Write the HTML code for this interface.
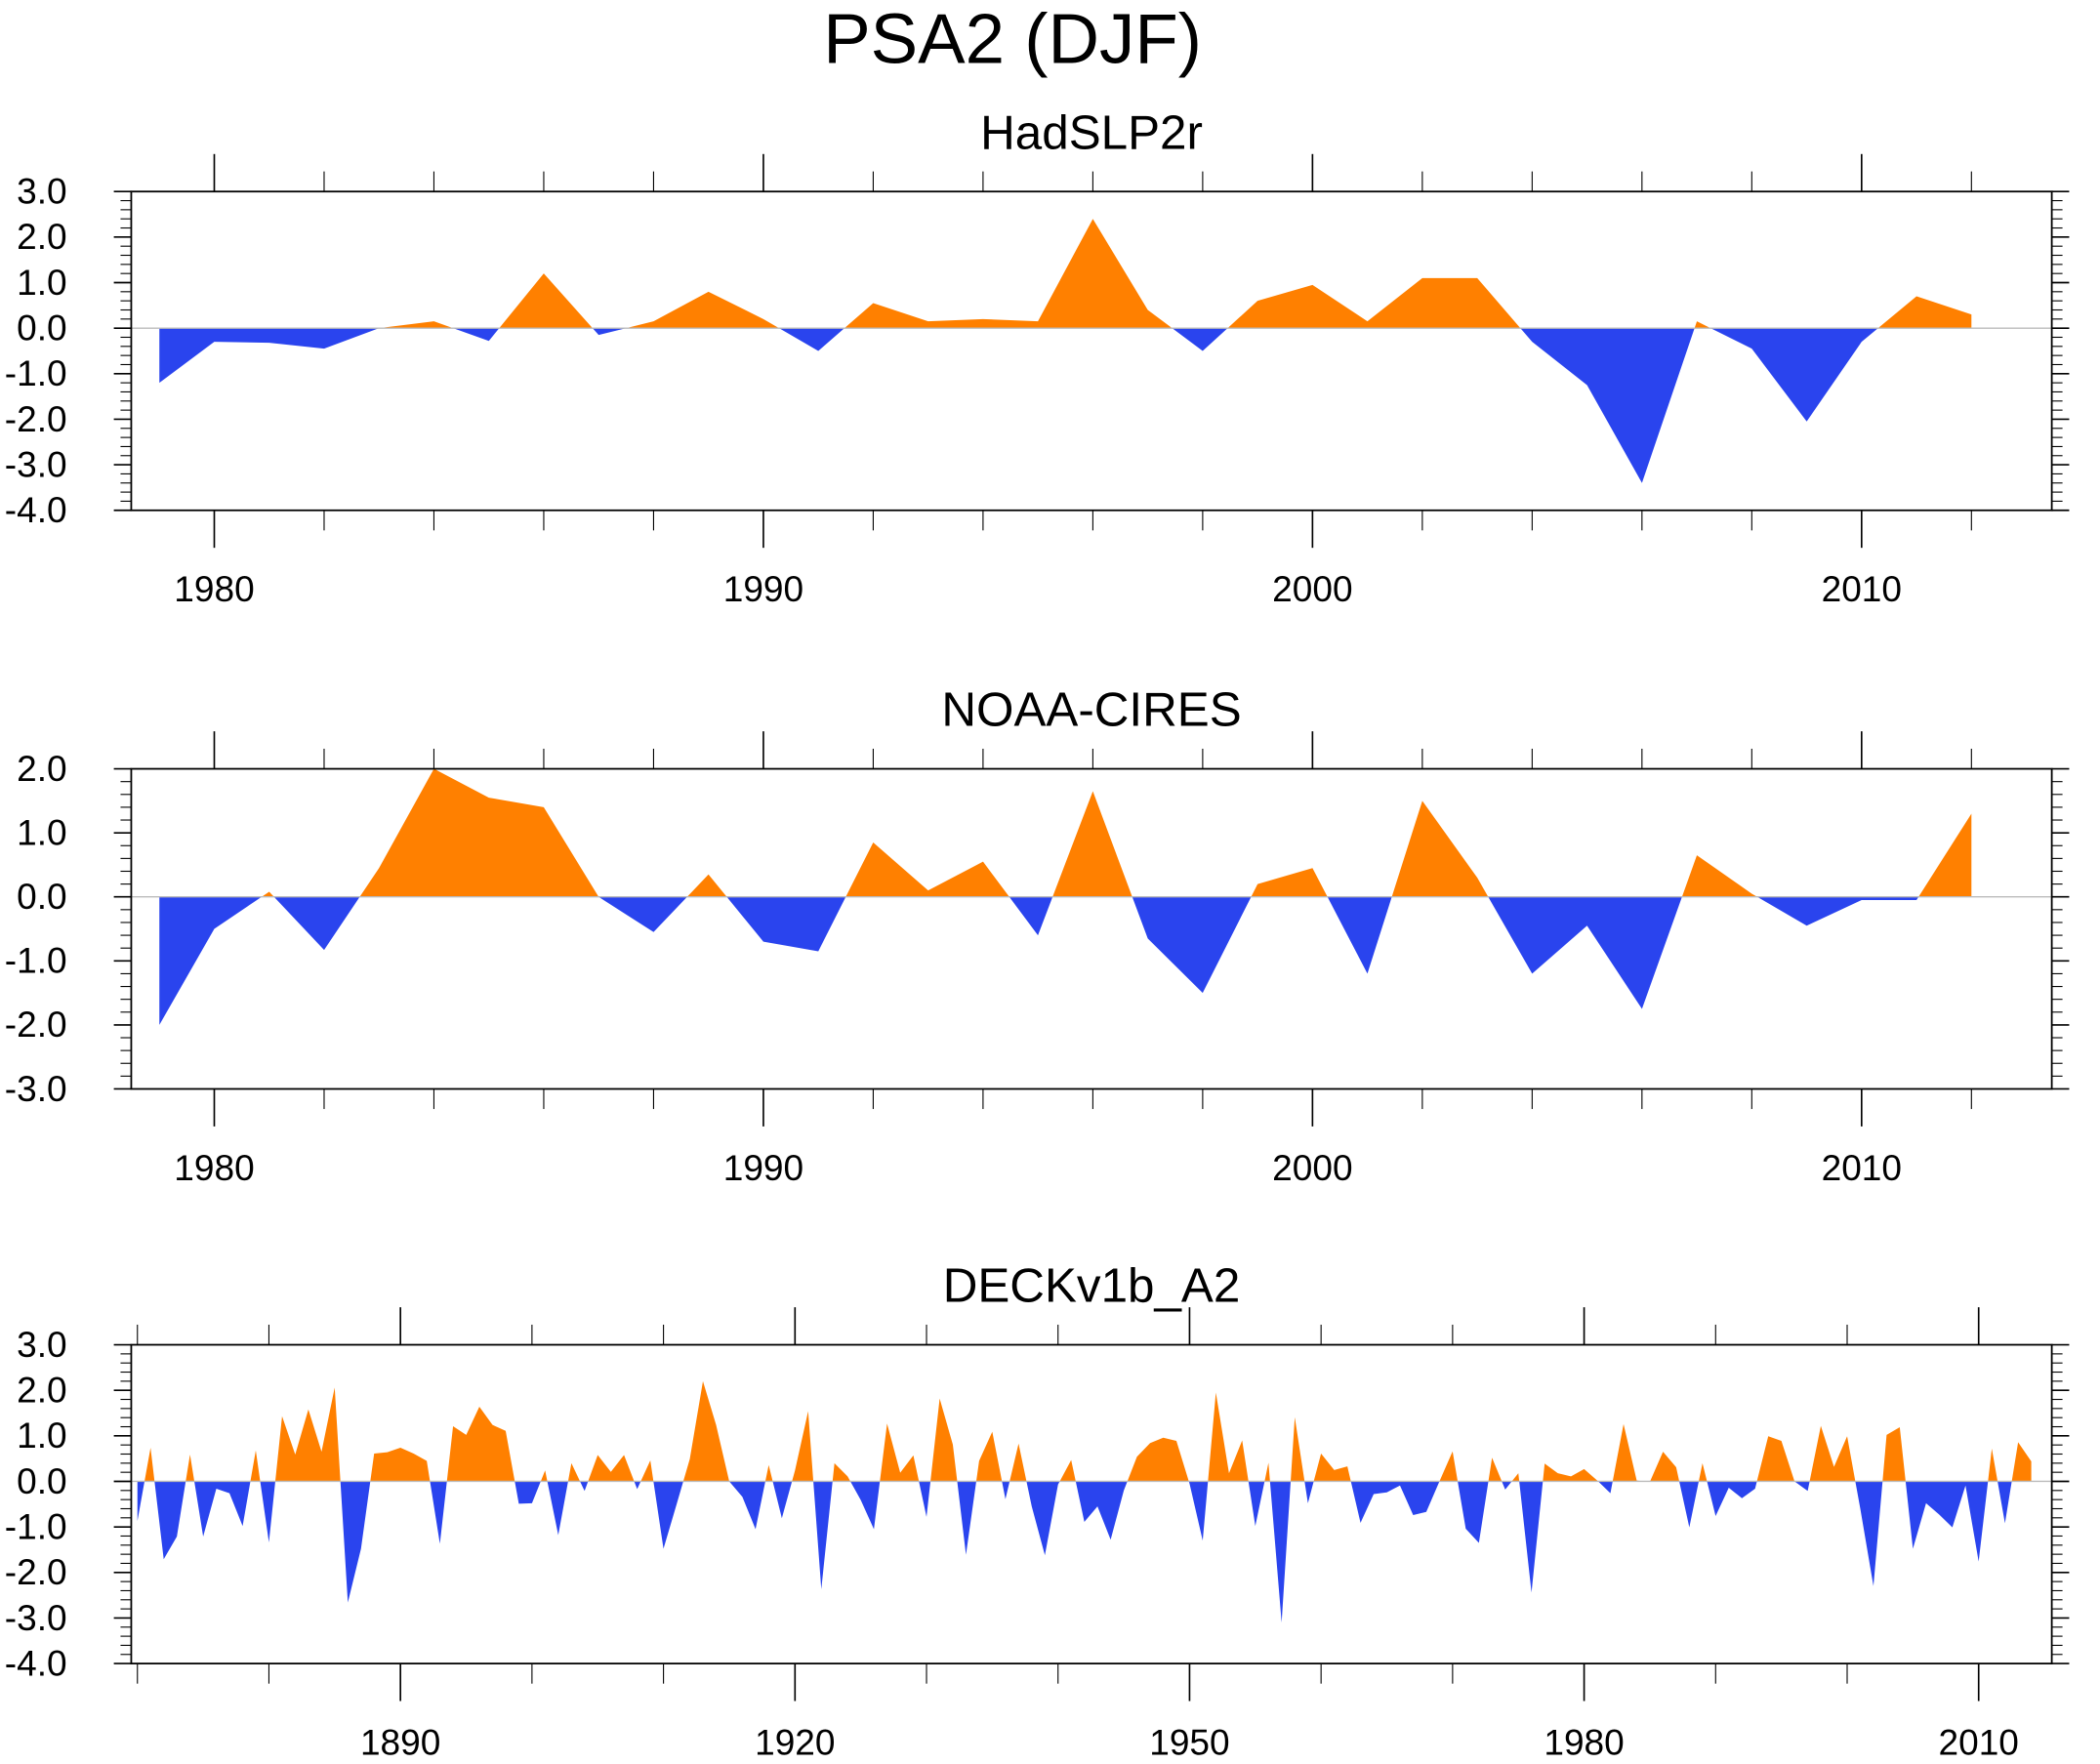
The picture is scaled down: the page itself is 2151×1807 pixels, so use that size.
<!DOCTYPE html>
<html><head><meta charset="utf-8"><style>
html,body{margin:0;padding:0;background:#fff}
svg{display:block}
text{font-family:"Liberation Sans",sans-serif;fill:#000}
</style></head><body>
<svg id="chart" width="2151" height="1807" viewBox="0 0 1568 1317" preserveAspectRatio="none" xmlns="http://www.w3.org/2000/svg">
<text x="756" y="47" font-size="53" text-anchor="middle">PSA2 (DJF)</text>
</svg>
<script>
const hadYears = [1979,2012];
const hadValues = [-1.2,-0.3,-0.32,-0.45,0.0,0.15,-0.28,1.2,-0.15,0.15,0.8,0.2,-0.5,0.55,0.15,0.2,0.15,2.4,0.4,-0.5,0.6,0.95,0.15,1.1,1.1,-0.3,-1.25,-3.4,0.15,-0.45,-2.05,-0.3,0.7,0.3];
const noaaValues = [-2.0,-0.5,0.08,-0.83,0.45,2.0,1.55,1.4,0.0,-0.55,0.35,-0.7,-0.85,0.85,0.1,0.55,-0.6,1.65,-0.65,-1.5,0.2,0.45,-1.2,1.5,0.3,-1.2,-0.45,-1.75,0.65,0.05,-0.45,-0.05,-0.05,1.3];
const deckYears = [1870,2014];
const deckValues = [-0.87,0.74,-1.71,-1.21,0.59,-1.21,-0.16,-0.26,-0.98,0.68,
-1.34,1.43,0.59,1.58,0.65,2.06,-2.66,-1.48,0.61,0.64,
0.74,0.61,0.45,-1.37,1.21,1.02,1.64,1.24,1.11,-0.49,
-0.48,0.24,-1.18,0.4,-0.21,0.58,0.21,0.58,-0.17,0.46,
-1.48,-0.5,0.49,2.2,1.24,0.0,-0.34,-1.05,0.36,-0.81,
0.24,1.54,-2.37,0.4,0.11,-0.41,-1.05,1.27,0.19,0.57,
-0.78,1.82,0.81,-1.61,0.45,1.09,-0.39,0.83,-0.55,-1.62,
-0.07,0.47,-0.89,-0.55,-1.28,-0.2,0.54,0.84,0.96,0.89,
-0.05,-1.3,1.95,0.18,0.9,-0.98,0.41,-3.1,1.41,-0.48,
0.61,0.25,0.33,-0.91,-0.28,-0.24,-0.09,-0.74,-0.67,0.0,
0.66,-1.04,-1.35,0.52,-0.18,0.18,-2.44,0.39,0.18,0.11,
0.27,0.02,-0.26,1.26,0.02,-0.01,0.65,0.31,-1.01,0.4,
-0.76,-0.14,-0.37,-0.16,0.99,0.89,0.0,-0.21,1.22,0.32,
0.99,-0.6,-2.3,1.02,1.19,-1.48,-0.48,-0.73,-1.01,-0.09,
-1.76,0.72,-0.92,0.86,0.44];
const hadYTicks = ["3.0","2.0","1.0","0.0","-1.0","-2.0","-3.0","-4.0"];
const noaaYTicks = ["2.0","1.0","0.0","-1.0","-2.0","-3.0"];
const shortXLabels = ["1980","1990","2000","2010"];
const longXLabels = ["1890","1920","1950","1980","2010"];

const NS="http://www.w3.org/2000/svg";
const svg=document.getElementById('chart');
function mk(tag,attrs,parent){const e=document.createElementNS(NS,tag);for(const k in attrs)e.setAttribute(k,attrs[k]);(parent||svg).appendChild(e);return e;}
let clipId=0;
function panel(cfg){
  const g=mk('g',{});
  
  
  const L=98,R=1532,T=cfg.top,B=cfg.bottom;
  const xs=y=>cfg.x0+(y-cfg.xRefYear)*cfg.pxPerYear;
  const ymax=cfg.ymax,ymin=cfg.ymin;
  const ys=v=>T+(ymax-v)/(ymax-ymin)*(B-T);
  const t=mk('text',{x:815,y:T-32,'font-size':36,'text-anchor':'middle'},g);
  t.textContent=cfg.title;
  
  
  const y0=ys(0);
  let pts=[];
  cfg.values.forEach((v,i)=>{pts.push(xs(cfg.startYear+i).toFixed(2)+','+ys(v).toFixed(2));});
  const x1=xs(cfg.startYear),x2=xs(cfg.startYear+cfg.values.length-1);
  const poly=x1+','+y0+' '+pts.join(' ')+' '+x2+','+y0;
  const id1='c'+(clipId++),id2='c'+(clipId++);
  const defs=mk('defs',{},g);
  const cp1=mk('clipPath',{id:id1},defs);mk('rect',{x:0,y:0,width:1568,height:y0},cp1);
  const cp2=mk('clipPath',{id:id2},defs);mk('rect',{x:0,y:y0,width:1568,height:1317},cp2);
  const pa=mk('polygon',{points:poly,fill:'#ff8000','clip-path':'url(#'+id1+')'},g);
  
  
  const na=mk('polygon',{points:poly,fill:'#2a44ee','clip-path':'url(#'+id2+')'},g);
  
  
  const zl=mk('line',{x1:L,x2:R,y1:y0,y2:y0,stroke:'#bbb','stroke-width':1},g);
  
  
  const fr=mk('rect',{x:L,y:T,width:R-L,height:B-T,fill:'none',stroke:'#000','stroke-width':1.3},g);
  
  
  for(let v=ymin;v<=ymax+1e-6;v+=0.2){
    const yy=ys(v),major=Math.abs(v-Math.round(v))<1e-6;
    const len=major?13:8;
    mk('line',{x1:L-len,x2:L,y1:yy,y2:yy,stroke:'#000','stroke-width':major?1.2:0.8},g);
    mk('line',{x1:R,x2:R+len,y1:yy,y2:yy,stroke:'#000','stroke-width':major?1.2:0.8},g);
  }
  cfg.yLabels.forEach(s=>{
    const v=parseFloat(s);
    const tx=mk('text',{x:50,y:ys(v)+9,'font-size':27,'text-anchor':'end'},g);
    tx.textContent=s;
    
    
  });
  for(let y=cfg.tickStart;y<=cfg.tickEnd;y+=cfg.minorStep){
    const xx=xs(y);if(xx<L-1||xx>R+1)continue;
    const major=(y-cfg.majorBase)%cfg.majorStep===0;
    const len=major?28:15;
    mk('line',{x1:xx,x2:xx,y1:T-len,y2:T,stroke:'#000','stroke-width':major?1.2:0.8},g);
    mk('line',{x1:xx,x2:xx,y1:B,y2:B+len,stroke:'#000','stroke-width':major?1.2:0.8},g);
  }
  cfg.xLabels.forEach(s=>{
    const tx=mk('text',{x:xs(+s),y:B+68,'font-size':27,'text-anchor':'middle'},g);
    tx.textContent=s;
    
    
  });
}
panel({name:'hadslp2r',title:'HadSLP2r',top:143,bottom:381,ymax:3,ymin:-4,values:hadValues,startYear:hadYears[0],
  x0:160,xRefYear:1980,pxPerYear:41,yLabels:hadYTicks,xLabels:shortXLabels,tickStart:1976,tickEnd:2016,minorStep:2,majorBase:1980,majorStep:10});
panel({name:'noaa-cires',title:'NOAA-CIRES',top:574,bottom:813,ymax:2,ymin:-3,values:noaaValues,startYear:hadYears[0],
  x0:160,xRefYear:1980,pxPerYear:41,yLabels:noaaYTicks,xLabels:shortXLabels,tickStart:1976,tickEnd:2016,minorStep:2,majorBase:1980,majorStep:10});
panel({name:'deckv1b-a2',title:'DECKv1b_A2',top:1004,bottom:1242,ymax:3,ymin:-4,values:deckValues,startYear:deckYears[0],
  x0:299,xRefYear:1890,pxPerYear:9.82,yLabels:hadYTicks,xLabels:longXLabels,tickStart:1870,tickEnd:2020,minorStep:10,majorBase:1890,majorStep:30});
</script>
</body></html>
